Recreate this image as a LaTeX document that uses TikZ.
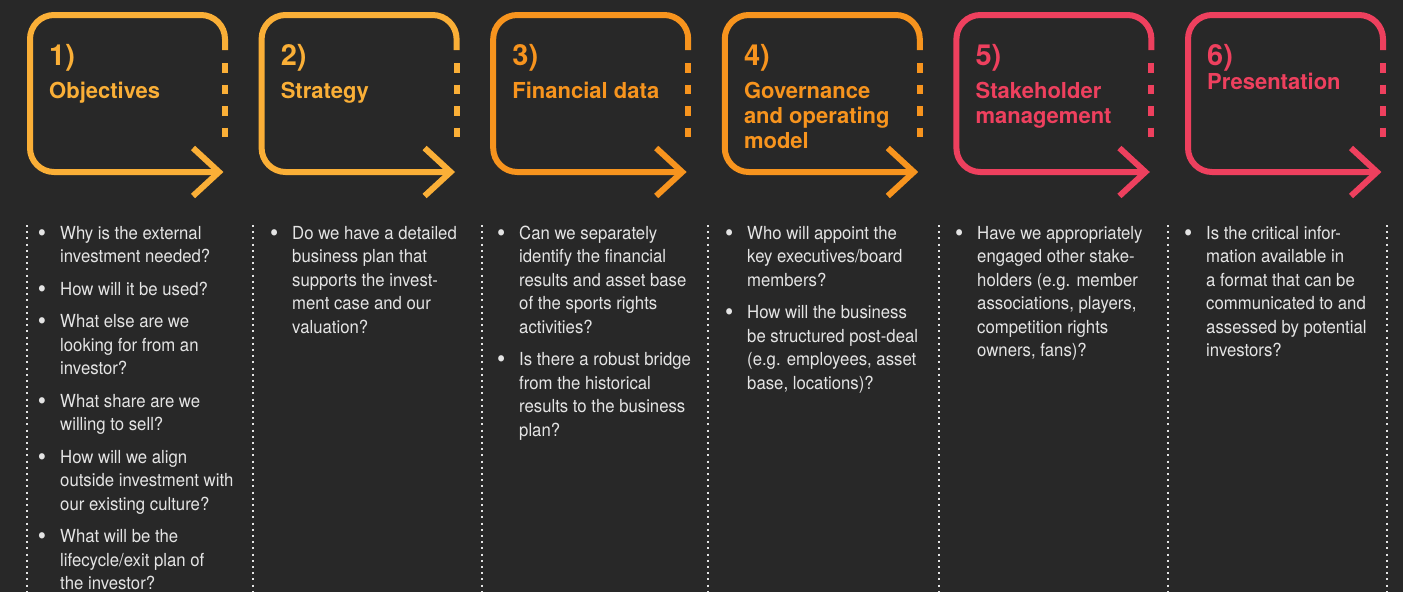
\documentclass[tikz,border=0pt]{standalone}
\usepackage{fontspec}
\setmainfont{TeX Gyre Heros}
\newfontfamily\qfont{TeX Gyre Heros}[FakeStretch=0.93]
\usetikzlibrary{positioning}
\definecolor{bgdark}{RGB}{40, 40, 40}
\definecolor{ambr}{RGB}{250, 175, 55}
\definecolor{tangerine}{RGB}{247, 148, 30}
\definecolor{rose}{RGB}{238, 64, 94}
\definecolor{qgrey}{RGB}{228, 228, 228}
\newcommand{\qb}{\llap{\raisebox{-2.2pt}{\scalebox{1.4}{\textbullet}}\hspace{14pt}}}

\begin{document}
\begin{tikzpicture}[
    x=1pt, y=-1pt,
    node distance=0.4cm,
    frame/.pic={
        \draw[pic actions, line width=6pt, rounded corners=24pt] (195,35) -- (195,0) -- (0,0) -- (0,157) -- (189,157);
        \draw[pic actions, line width=6pt, miter limit=10] (163,133) -- (189,157) -- (163,181);
        \draw[pic actions, line width=6pt, dash pattern=on 9.5pt off 12pt] (195,48) -- (195,122);
    },
    stepnum/.style={anchor=base west, inner sep=0pt, font=\fontsize{29}{32}\selectfont\bfseries},
    stephead/.style={anchor=north west, inner sep=0pt, align=left, font=\fontsize{22}{25}\selectfont\bfseries},
    qtext/.style={anchor=north west, inner sep=0pt, align=left, text=qgrey, font=\qfont\fontsize{18}{23.5}\selectfont},
    sepline/.style={draw=qgrey, line width=2pt, dash pattern=on 2pt off 4.2pt}
]
    \useasboundingbox (0,0) rectangle (1403,592);
    \fill[bgdark] (0,0) rectangle (1403,592);

    % Step frames
    \pic[draw=ambr] (f1) at (30,15) {frame};
    \pic[draw=ambr] (f2) at (261.6,15) {frame};
    \pic[draw=tangerine] (f3) at (493.2,15) {frame};
    \pic[draw=tangerine] (f4) at (724.8,15) {frame};
    \pic[draw=rose] (f5) at (956.4,15) {frame};
    \pic[draw=rose] (f6) at (1188,15) {frame};

    % Step numbers and headings
    \node[stepnum, text=ambr] (n1) at (49,65) {1)};
    \node[stephead, text=ambr, below=15.5pt of n1.base west, anchor=north west] (h1) {\strut Objectives};
    \node[stepnum, text=ambr] (n2) at (280.6,65) {2)};
    \node[stephead, text=ambr, below=15.5pt of n2.base west, anchor=north west] (h2) {\strut Strategy};
    \node[stepnum, text=tangerine] (n3) at (512.2,65) {3)};
    \node[stephead, text=tangerine, below=15.5pt of n3.base west, anchor=north west] (h3) {\strut Financial data};
    \node[stepnum, text=tangerine] (n4) at (743.8,65) {4)};
    \node[stephead, text=tangerine, below=15.5pt of n4.base west, anchor=north west] (h4) {\strut Governance\\and operating\\model};
    \node[stepnum, text=rose] (n5) at (975.4,65) {5)};
    \node[stephead, text=rose, below=15.5pt of n5.base west, anchor=north west] (h5) {\strut Stakeholder\\management};
    \node[stepnum, text=rose] (n6) at (1207,65) {6)};
    \node[stephead, text=rose, below=6.5pt of n6.base west, anchor=north west] (h6) {\strut Presentation};

    % Dotted column rules
    \draw[sepline] (27,225) -- (27,592);
    \draw[sepline] (253,225) -- (253,592);
    \draw[sepline] (482,225) -- (482,592);
    \draw[sepline] (708,225) -- (708,592);
    \draw[sepline] (939,225) -- (939,592);
    \draw[sepline] (1168,225) -- (1168,592);
    \draw[sepline] (1387,225) -- (1387,592);

    % Questions
    \node[qtext] (q1) at (60,222.5) {\qb\strut Why is the external\\investment needed?\\[9pt]
        \qb How will it be used?\\[9pt]
        \qb What else are we\\looking for from an\\investor?\\[9pt]
        \qb What share are we\\willing to sell?\\[9pt]
        \qb How will we align\\outside investment with\\our existing culture?\\[9pt]
        \qb What will be the\\lifecycle/exit plan of\\the investor?};
    \node[qtext] (q2) at (292,222.5) {\qb\strut Do we have a detailed\\business plan that\\supports the invest-\\ment case and our\\valuation?};
    \node[qtext] (q3) at (519,222.5) {\qb\strut Can we separately\\identify the financial\\results and asset base\\of the sports rights\\activities?\\[9pt]
        \qb Is there a robust bridge\\from the historical\\results to the business\\plan?};
    \node[qtext] (q4) at (747,222.5) {\qb\strut Who will appoint the\\key executives/board\\members?\\[9pt]
        \qb How will the business\\be structured post-deal\\(e.g. employees, asset\\base, locations)?};
    \node[qtext] (q5) at (977,222.5) {\qb\strut Have we appropriately\\engaged other stake-\\holders (e.g. member\\associations, players,\\competition rights\\owners, fans)?};
    \node[qtext] (q6) at (1206,222.5) {\qb\strut Is the critical infor-\\mation available in\\a format that can be\\communicated to and\\assessed by potential\\investors?};
\end{tikzpicture}
\end{document}
